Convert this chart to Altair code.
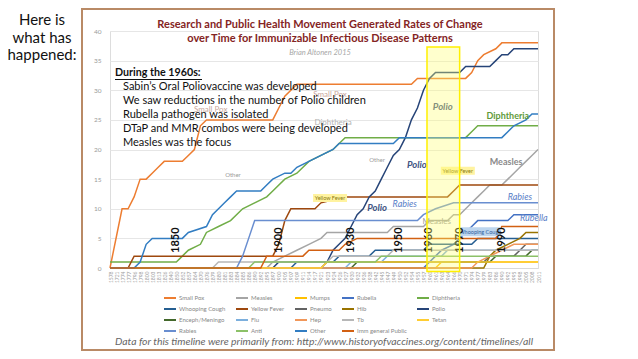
import altair as alt
import pandas as pd

# ---------------- data ----------------
years = [1578, 1721, 1774, 1777, 1796, 1798, 1800, 1803, 1813, 1826, 1840, 1850,
         1852, 1857, 1864, 1870, 1876, 1879, 1880, 1881, 1883, 1884, 1885, 1886,
         1890, 1892, 1895, 1897, 1900, 1905, 1907, 1909, 1911, 1914, 1917, 1921,
         1923, 1924, 1926, 1927, 1930, 1932, 1936, 1938, 1942, 1945, 1947, 1949,
         1950, 1952, 1954, 1955, 1957, 1960, 1961, 1963, 1964, 1966, 1970, 1971,
         1974, 1977, 1979, 1983, 1986, 1990, 1992, 1995, 1998, 2005, 2008, 2011]

series_names = ["Small Pox", "Measles", "Mumps", "Rubella", "Diphtheria",
                "Whooping Cough", "Yellow Fever", "Pneumo", "Hib", "Polio",
                "Enceph/Meningo", "Flu", "Hep", "Tb", "Tetan",
                "Rabies", "Anti", "Other", "Imm general Public"]
series_colors = ["#ED7D31", "#A5A5A5", "#FFC000", "#4472C4", "#70AD47",
                 "#255E91", "#9E480E", "#636363", "#997300", "#264478",
                 "#43682B", "#7CAFDD", "#F1975A", "#B7B7B7", "#FFCD33",
                 "#698ED0", "#8CC168", "#327DC2", "#D26012"]

small_pox = [(1578, 0), (1774, 10), (1777, 10), (1796, 12), (1798, 15), (1800, 15), (1803, 16),
             (1813, 17), (1826, 18), (1852, 18), (1857, 19), (1864, 20), (1870, 24), (1876, 25),
             (1897, 25), (1900, 27), (1905, 29), (1907, 30), (1909, 31), (1954, 31), (1955, 32),
             (1971, 32), (1974, 33), (1977, 35), (1979, 36), (1986, 37), (1990, 38), (2011, 38)]
measles = [(1578, 0), (1895, 0), (1897, 1), (1905, 2), (1909, 3), (1914, 4), (1921, 5), (1923, 6),
           (1947, 6), (1949, 7), (1957, 7), (1960, 8), (1964, 8), (1966, 9), (1970, 9), (1971, 10),
           (1974, 11), (1977, 12), (1979, 13), (1983, 14), (1990, 14), (1992, 15), (1995, 16),
           (1998, 17), (2005, 18), (2008, 19), (2011, 20)]
mumps = [(1578, 0), (1961, 0), (1963, 1), (2011, 1)]
rubella = [(1578, 0), (1957, 0), (1960, 1), (1961, 2), (1963, 3), (1966, 4), (1970, 5), (1971, 6),
           (1974, 7), (1977, 8), (1992, 8), (1995, 9), (2011, 9)]
diphtheria = [(1578, 1), (1850, 1), (1852, 2), (1857, 3), (1870, 4), (1876, 6), (1880, 7), (1883, 8),
              (1885, 10), (1890, 11), (1895, 12), (1897, 13), (1905, 15), (1909, 16), (1914, 18),
              (1921, 19), (1924, 20), (1927, 22), (1971, 22), (1974, 23), (1977, 24), (2011, 24)]
whooping_cough = [(1578, 0), (1907, 0), (1909, 1), (1924, 1), (1926, 2), (1938, 2), (1942, 3),
                  (1957, 3), (1960, 4), (1974, 4), (1977, 5), (2011, 5)]
yellow_fever = [(1578, 0), (1777, 0), (1796, 2), (1897, 2), (1900, 4), (1905, 8), (1907, 10),
                (1917, 10), (1921, 11), (1927, 12), (1964, 12), (1966, 13), (1970, 14), (2011, 14)]
pneumo = [(1578, 0), (1921, 0), (1923, 1), (1979, 1), (1983, 2), (1995, 2), (1998, 3), (2005, 4),
          (2011, 4)]
hib = [(1578, 0), (1979, 0), (1983, 2), (1986, 3), (1992, 4), (1998, 5), (2005, 6), (2011, 6)]
polio = [(1578, 0), (1897, 0), (1900, 1), (1923, 1), (1924, 3), (1926, 4), (1927, 5), (1930, 7),
         (1932, 9), (1936, 10), (1938, 12), (1942, 13), (1945, 15), (1947, 17), (1949, 19),
         (1950, 20), (1952, 22), (1954, 25), (1955, 27), (1957, 30), (1960, 32), (1961, 33),
         (1970, 33), (1971, 34), (1983, 34), (1986, 35), (1990, 36), (1992, 36), (1995, 37),
         (2011, 37)]
enceph_meningo = [(1578, 0), (1930, 0), (1932, 1), (1983, 1), (1986, 2), (2005, 2), (2008, 3),
                  (2011, 3)]
flu = [(1578, 0), (1927, 0), (1930, 1), (1945, 1), (1947, 2), (1963, 2), (1964, 3), (2011, 3)]
hep = [(1578, 0), (1974, 0), (1977, 1), (1983, 2), (1990, 3), (1995, 4), (2011, 4)]
tb = [(1578, 0), (1879, 0), (1880, 1), (1923, 1), (1924, 2), (1947, 2), (1949, 3), (2011, 3)]
tetan = [(1578, 0), (1921, 0), (1923, 1), (2011, 1)]
rabies = [(1578, 0), (1884, 0), (1885, 2), (1886, 5), (1890, 8), (1955, 8), (1957, 9), (1961, 10),
          (1966, 11), (2011, 11)]
anti = [(1578, 0), (1886, 0), (1890, 1), (1942, 1), (1945, 2), (2011, 2)]
other = [(1578, 0), (1796, 0), (1798, 1), (1800, 4), (1803, 5), (1852, 5), (1857, 6), (1876, 7),
         (1879, 9), (1880, 10), (1881, 11), (1883, 12), (1884, 13), (1892, 13), (1895, 14),
         (1897, 15), (1905, 16), (1907, 16), (1909, 17), (1914, 18), (1921, 19), (1924, 20),
         (1926, 21), (1949, 21), (1950, 22), (1990, 22), (1992, 23), (1995, 24), (2005, 25),
         (2008, 26), (2011, 26)]
imm_general_public = [(1578, 0), (1892, 0), (1895, 2), (1911, 2), (1914, 3), (1926, 3), (1927, 4),
                      (1932, 5), (1986, 5), (1990, 7), (2011, 7)]

series_points = dict(zip(series_names, [
    small_pox, measles, mumps, rubella, diphtheria, whooping_cough, yellow_fever, pneumo, hib,
    polio, enceph_meningo, flu, hep, tb, tetan, rabies, anti, other, imm_general_public]))

bold_years = [1850, 1900, 1930, 1950, 1960, 1970, 1990]
highlight = (1960, 1970)

# on-chart annotations: (text, x position in category index, value)
ann_gray = [("Small Pox", 16.7, 26.7, "#c9a79c", 8), ("Small Pox", 36.5, 29.2, "#c9a79c", 8),
            ("Diphtheria", 37.0, 24.5, "#b3b3b3", 8), ("Other", 20.4, 15.7, "#999999", 6),
            ("Other", 44.3, 18.2, "#999999", 6), ("Measles", 54.2, 7.8, "#999999", 8)]
ann_polio = [("Polio", 55.2, 27.2), ("Polio", 50.9, 17.4), ("Polio", 44.3, 10.1)]
ann_italic = [("Rabies", 48.9, 10.8), ("Rabies", 68.0, 12.0), ("Rubella", 70.3, 8.4)]
ann_bold = [("Measles", 65.7, 17.9, "#8a8a8a"), ("Diphtheria", 66.0, 25.7, "#5e9a3a")]
ann_yf = [("Yellow Fever", 36.5, 11.8), ("Yellow Fever", 57.7, 16.4)]
ann_wc = [("Whooping Cough", 61.4, 6.1)]

slide_text = ["Here is", "what has", "happened:"]
title_lines = ["Research and Public Health Movement Generated Rates of Change",
               "over Time for Immunizable Infectious Disease Patterns"]
subtitle = "Brian Altonen 2015"
box_heading = "During the 1960s:"
box_lines = ["Sabin\u2019s Oral Poliovaccine was developed",
             "We saw reductions in the number of Polio children",
             "Rubella pathogen was isolated",
             "DTaP and MMR combos were being developed",
             "Measles was the focus"]
footnote = "Data for this timeline were primarily from:  http://www.historyofvaccines.org/content/timelines/all"

# ---------------- frames ----------------
rows = []
for name, pts in series_points.items():
    for k, (yr, val) in enumerate(pts):
        rows.append({"series": name, "i": years.index(yr), "count": val, "k": k})
lines_df = pd.DataFrame(rows)

label_expr = "[" + ",".join("'%d'" % y for y in years) + "][datum.value]"

X = alt.X("i:Q", title=None,
          scale=alt.Scale(domain=[0, len(years) - 1], nice=False, zero=False),
          axis=alt.Axis(values=list(range(len(years))), labelExpr=label_expr, labelAngle=270,
                        labelFontSize=5, labelColor="#a0a0a0", labelPadding=3,
                        labelOverlap=False, labelFlush=False, ticks=False, grid=False,
                        domainColor="#d9d9d9", labelFont="Lato", labelSeparation=0))
Y = alt.Y("count:Q", title=None,
          scale=alt.Scale(domain=[0, 40], nice=False),
          axis=alt.Axis(values=list(range(0, 41, 5)), grid=True, gridColor="#e6e6e6",
                        domain=False, ticks=False, labelFontSize=6.5, labelColor="#9a9a9a",
                        labelPadding=9, labelFlush=False, labelFont="Lato"))
Y2 = alt.Y2("count2:Q")

one = pd.DataFrame({"a": [0]})

frame = alt.Chart(one).mark_rect(filled=False, stroke="#b98a66", strokeWidth=2).encode(
    x=alt.value(-28), x2=alt.value(444), y=alt.value(-22), y2=alt.value(319))

lines = alt.Chart(lines_df).mark_line(strokeWidth=1.5).encode(
    x=X, y=Y, order="k:Q",
    color=alt.Color("series:N", scale=alt.Scale(domain=series_names, range=series_colors),
                    legend=alt.Legend(title=None, orient="none", legendX=53, legendY=260,
                                      direction="horizontal", columns=5, symbolType="stroke",
                                      symbolSize=144, symbolStrokeWidth=2, labelFontSize=6,
                                      labelColor="#888888", labelFont="Lato", columnPadding=6,
                                      rowPadding=-1, labelOffset=2)))

gray_df = pd.DataFrame(ann_gray, columns=["t", "i", "count", "c", "fs"])
gray_txt = alt.Chart(gray_df).mark_text(font="Lato").encode(
    x=X, y=Y, text="t:N", color=alt.Color("c:N", scale=None), size=alt.Size("fs:Q", scale=None))

polio_txt = alt.Chart(pd.DataFrame(ann_polio, columns=["t", "i", "count"])).mark_text(
    font="Lato", fontSize=9.5, fontWeight="bold", fontStyle="italic", color="#3f5583").encode(
    x=X, y=Y, text="t:N")
ital_txt = alt.Chart(pd.DataFrame(ann_italic, columns=["t", "i", "count"])).mark_text(
    font="Lato", fontSize=9, fontStyle="italic", color="#5a80c8").encode(x=X, y=Y, text="t:N")
bold_txt = alt.Chart(pd.DataFrame(ann_bold, columns=["t", "i", "count", "c"])).mark_text(
    font="Lato", fontSize=9, fontWeight="bold").encode(
    x=X, y=Y, text="t:N", color=alt.Color("c:N", scale=None))

yf_df = pd.DataFrame(ann_yf, columns=["t", "i", "count"])
yf_box = alt.Chart(yf_df).mark_rect(fill="#fff3a0", xOffset=-17, x2Offset=17, yOffset=-4,
                                    y2Offset=4).encode(x=X, x2="i:Q", y=Y, y2="count:Q")
yf_txt = alt.Chart(yf_df).mark_text(font="Lato", fontSize=5.5, color="#8a7a10").encode(
    x=X, y=Y, text="t:N")
wc_df = pd.DataFrame(ann_wc, columns=["t", "i", "count"])
wc_box = alt.Chart(wc_df).mark_rect(fill="#bcd5ee", xOffset=-21, x2Offset=21, yOffset=-4.5,
                                    y2Offset=4.5).encode(x=X, x2="i:Q", y=Y, y2="count:Q")
wc_txt = alt.Chart(wc_df).mark_text(font="Lato", fontSize=5.5, color="#2f5f9e").encode(
    x=X, y=Y, text="t:N")

by_df = pd.DataFrame({"t": [str(y) for y in bold_years],
                      "i": [years.index(y) for y in bold_years],
                      "count": [4.7] * len(bold_years)})
by_txt = alt.Chart(by_df).mark_text(font="Lato", fontSize=11, fontWeight="bold", angle=270,
                                    color="#111111").encode(x=X, y=Y, text="t:N")

band_df = pd.DataFrame({"i": [years.index(highlight[0])], "i2": [years.index(highlight[1])],
                        "count": [37.3], "count2": [-0.6]})
band = alt.Chart(band_df).mark_rect(fill="#ffff70", fillOpacity=0.35, stroke="#fff000",
                                    strokeWidth=1.5, xOffset=-2.5).encode(
    x=X, x2="i2:Q", y=Y, y2=Y2)

slide = alt.Chart(one).mark_text(text=slide_text, font="Lato", fontSize=15, lineHeight=17.5,
                                 align="center", baseline="middle", color="#111111").encode(
    x=alt.value(-68), y=alt.value(-11))
title = alt.Chart(one).mark_text(text=title_lines, font="Lato", fontSize=11, fontWeight="bold",
                                 lineHeight=14, align="center", baseline="middle",
                                 color="#842424").encode(x=alt.value(210), y=alt.value(-6))
sub = alt.Chart(one).mark_text(text=subtitle, font="Lato", fontSize=7.5, fontStyle="italic",
                               color="#a8a8a8", align="center", baseline="middle").encode(
    x=alt.value(210), y=alt.value(22))
head = alt.Chart(one).mark_text(text=box_heading, font="Lato", fontSize=10.7, fontWeight="bold",
                                align="left", baseline="middle", color="#111111").encode(
    x=alt.value(5), y=alt.value(42))
underline = alt.Chart(one).mark_rule(color="#111111", strokeWidth=1).encode(
    x=alt.value(5), x2=alt.value(92), y=alt.value(48.5))
body = alt.Chart(one).mark_text(text=box_lines, font="Lato", fontSize=11, lineHeight=14,
                                align="left", baseline="middle", color="#111111").encode(
    x=alt.value(13), y=alt.value(55.5))
foot = alt.Chart(one).mark_text(text=footnote, font="Lato", fontSize=10.4, fontStyle="italic",
                                align="center", baseline="middle", color="#666666").encode(
    x=alt.value(214), y=alt.value(311))

chart = alt.layer(
    frame, lines, gray_txt, polio_txt, ital_txt, bold_txt, yf_box, yf_txt, wc_box, wc_txt,
    by_txt, band, slide, title, sub, head, underline, body, foot
).properties(
    width=428, height=237,
    autosize=alt.AutoSizeParams(type="none"),
    padding={"left": 102, "top": 23, "right": 92, "bottom": 83},
).configure_view(stroke=None).configure(background="white", font="Lato").configure_axisX(
    labelOverlap=False)

chart.save("out.html", embed_options={"renderer": "svg", "actions": False})
